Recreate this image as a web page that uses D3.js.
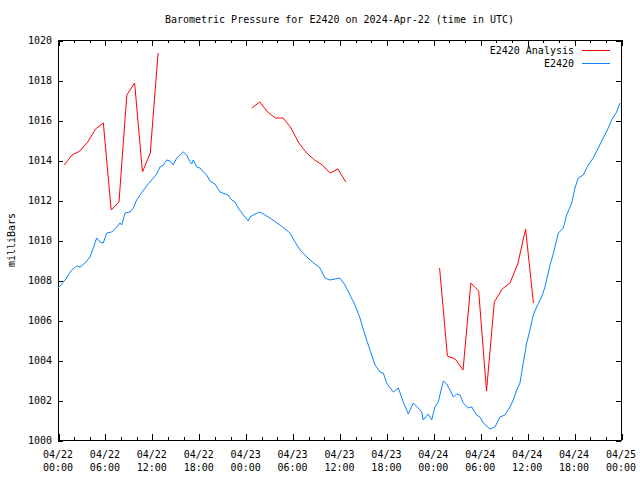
<!DOCTYPE html>
<html>
<head>
<meta charset="utf-8">
<script src="https://cdn.jsdelivr.net/npm/d3@7"></script>
<style>
  body { margin: 0; background: #fff; }
  svg { display: block; }
  text { font-family: "DejaVu Sans Mono", "Liberation Mono", monospace; font-size: 10px; fill: #000; }
</style>
</head>
<body>
<svg id="chart" width="640" height="480"></svg>
<script>
// ---- data ----
const title = "Barometric Pressure for E2420 on 2024-Apr-22 (time in UTC)";
const yLabel = "milliBars";
const seriesNames = ["E2420 Analysis", "E2420"];

// X tick labels (hours since 04/22 00:00 UTC)
const xMajorHours = [0, 6, 12, 18, 24, 30, 36, 42, 48, 54, 60, 66, 72];
const xLabelDate = ["04/22","04/22","04/22","04/22","04/23","04/23","04/23","04/23","04/24","04/24","04/24","04/24","04/25"];
const xLabelTime = ["00:00","06:00","12:00","18:00","00:00","06:00","12:00","18:00","00:00","06:00","12:00","18:00","00:00"];
const yTicks = [1000, 1002, 1004, 1006, 1008, 1010, 1012, 1014, 1016, 1018, 1020];

// E2420 Analysis (red) - hourly, with gaps (null)
const redHours = [0.8,1.8,2.8,3.8,4.8,5.8,6.8,7.8,8.8,9.8,10.8,11.8,12.8,13.8,
                  23.8,24.8,25.8,26.8,27.8,28.8,29.8,30.8,31.8,32.8,33.8,34.8,35.8,36.8,
                  47.8,48.8,49.8,50.8,51.8,52.8,53.8,54.8,55.8,56.8,57.8,58.8,59.8,60.8];
const redValues = [1013.75,1014.25,1014.45,1014.9,1015.55,1015.85,1011.5,1011.9,1017.25,1017.85,1013.4,1014.35,1019.35,null,
                   null,1016.6,1016.9,1016.4,1016.1,1016.1,1015.6,1014.85,1014.35,1014.0,1013.75,1013.35,1013.55,1012.9,
                   null,1008.6,1004.2,1004.05,1003.5,1007.85,1007.45,1002.45,1006.9,1007.55,1007.85,1008.8,1010.55,1006.85];

// E2420 observations (blue)
const blueHours = [0,0.26,0.9,1.75,2.39,2.81,3.45,4.09,4.51,4.95,5.37,5.79,6.23,6.87,7.51,7.93,8.15,8.57,9.21,9.63,
  10.06,10.49,11.34,11.76,12.62,13.04,13.47,13.9,14.32,14.74,15.18,16.02,16.46,16.88,17.1,17.3,17.74,18.16,18.58,19.02,
  19.44,20.08,20.72,21.36,21.78,22.21,22.63,23.06,23.7,24.34,24.55,25.19,25.83,27.11,28.39,29.03,29.67,30.31,30.95,32.23,
  33.5,34.14,34.78,36.06,36.7,37.34,37.98,38.62,39.26,39.9,40.54,41.18,41.6,42.03,42.88,43.52,44.16,44.8,45.43,46.07,
  46.51,46.71,47.35,47.79,48.21,48.63,49.27,49.71,50.13,50.55,50.98,51.41,51.83,52.47,52.91,53.54,53.96,54.39,55.24,55.88,
  56.52,57.16,57.8,58.22,58.66,59.08,59.5,59.94,60.36,60.78,61.21,61.85,62.28,62.92,63.34,63.98,64.62,65.05,65.69,66.11,
  66.53,67.17,67.81,68.45,69.09,69.73,70.37,70.8,71.44,71.87];
const blueValues = [1007.6,1007.7,1008.0,1008.5,1008.7,1008.65,1008.85,1009.15,1009.6,1010.1,1009.9,1009.85,1010.35,1010.4,1010.65,1010.85,1010.75,1011.35,1011.4,1011.6,
  1012.0,1012.25,1012.7,1012.9,1013.3,1013.65,1013.75,1014.0,1013.95,1013.75,1014.1,1014.4,1014.25,1013.9,1013.8,1014.0,1013.65,1013.6,1013.4,1013.25,
  1012.95,1012.8,1012.4,1012.3,1012.25,1012.0,1011.9,1011.6,1011.25,1010.95,1011.15,1011.3,1011.4,1011.1,1010.75,1010.55,1010.35,1009.9,1009.5,1009.0,
  1008.6,1008.1,1008.0,1008.1,1007.75,1007.25,1006.75,1006.1,1005.25,1004.5,1003.75,1003.4,1003.35,1002.85,1002.4,1002.6,1001.9,1001.3,1001.85,1001.6,
  1001.4,1001.0,1001.3,1001.0,1001.65,1001.9,1002.95,1002.8,1002.5,1002.15,1002.3,1002.25,1001.85,1001.6,1001.65,1001.25,1001.15,1000.85,1000.55,1000.65,
  1001.15,1001.25,1001.65,1002.0,1002.5,1002.85,1003.85,1004.85,1005.5,1006.25,1006.65,1007.15,1007.65,1008.75,1009.3,1010.35,1010.6,1011.25,1011.85,1012.6,
  1013.1,1013.25,1013.75,1014.1,1014.6,1015.1,1015.6,1016.0,1016.4,1016.85];

const colors = ["#ff0000", "#0a84ff"];

// ---- layout ----
const L = 58, R = 621, T = 40, B = 440;
const svg = d3.select("#chart");
const x = d3.scaleLinear().domain([0, 72]).range([L, R]);
const y = d3.scaleLinear().domain([1000, 1020]).range([B, T]);

const minorHours = d3.range(0, 73, 2).filter(h => h % 6 !== 0);

function styleAxis(g) {
  g.select(".domain").remove();
  g.selectAll("line").attr("stroke", "#000").attr("shape-rendering", "crispEdges");
}

// bottom major
svg.append("g").attr("transform", `translate(0.5,${B})`)
  .call(d3.axisBottom(x).tickValues(xMajorHours).tickSize(-6).tickFormat(""))
  .call(styleAxis);
svg.append("g").attr("transform", `translate(0.5,${B})`)
  .call(d3.axisBottom(x).tickValues(minorHours).tickSize(-3).tickFormat(""))
  .call(styleAxis);
// top
svg.append("g").attr("transform", `translate(0.5,${T})`)
  .call(d3.axisTop(x).tickValues(xMajorHours).tickSize(-6).tickFormat(""))
  .call(styleAxis);
svg.append("g").attr("transform", `translate(0.5,${T})`)
  .call(d3.axisTop(x).tickValues(minorHours).tickSize(-3).tickFormat(""))
  .call(styleAxis);
// left
svg.append("g").attr("transform", `translate(${L},0.5)`)
  .call(d3.axisLeft(y).tickValues(yTicks).tickSize(-5).tickFormat(""))
  .call(styleAxis);
// right
svg.append("g").attr("transform", `translate(${R},0.5)`)
  .call(d3.axisRight(y).tickValues(yTicks).tickSize(-5).tickFormat(""))
  .call(styleAxis);

// frame
svg.append("rect").attr("x", L + 0.5).attr("y", T + 0.5)
  .attr("width", R - L).attr("height", B - T)
  .attr("fill", "none").attr("stroke", "#000").attr("shape-rendering", "crispEdges");

// y tick labels
svg.append("g").selectAll("text").data(yTicks).join("text")
  .attr("x", L - 6).attr("y", d => y(d)).attr("dy", "0.35em")
  .attr("text-anchor", "end").text(d => d);

// x tick labels
const xl = svg.append("g").selectAll("text").data(xMajorHours).join("text")
  .attr("text-anchor", "middle");
xl.append("tspan").attr("x", d => x(d)).attr("y", 458).text((d, i) => xLabelDate[i]);
xl.append("tspan").attr("x", d => x(d)).attr("y", 471).text((d, i) => xLabelTime[i]);

// title
svg.append("text").attr("x", (L + R) / 2).attr("y", 23).attr("text-anchor", "middle").text(title);
// y label
svg.append("text").attr("transform", `translate(15,240) rotate(-90)`)
  .attr("text-anchor", "middle").text(yLabel);

// lines
const clip = svg.append("clipPath").attr("id", "plotclip").append("rect")
  .attr("x", L).attr("y", T).attr("width", R - L + 1).attr("height", B - T + 1);

const redData = redHours.map((h, i) => ({h, v: redValues[i]}));
const blueData = blueHours.map((h, i) => ({h, v: blueValues[i]}));
const line = d3.line().defined(d => d.v !== null).x(d => x(d.h)).y(d => y(d.v));

svg.append("path").datum(blueData).attr("d", line)
  .attr("fill", "none").attr("stroke", colors[1]).attr("stroke-width", 1)
  .attr("clip-path", "url(#plotclip)");
svg.append("path").datum(redData).attr("d", line)
  .attr("fill", "none").attr("stroke", colors[0]).attr("stroke-width", 1)
  .attr("clip-path", "url(#plotclip)");

// legend
const legY = [50, 63];
seriesNames.forEach((name, i) => {
  svg.append("text").attr("x", 574).attr("y", legY[i]).attr("dy", "0.35em")
    .attr("text-anchor", "end").text(name);
  svg.append("line").attr("x1", 582).attr("x2", 610)
    .attr("y1", legY[i] + 0.5).attr("y2", legY[i] + 0.5)
    .attr("stroke", colors[i]).attr("stroke-width", 1).attr("shape-rendering", "crispEdges");
});
</script>
</body>
</html>
